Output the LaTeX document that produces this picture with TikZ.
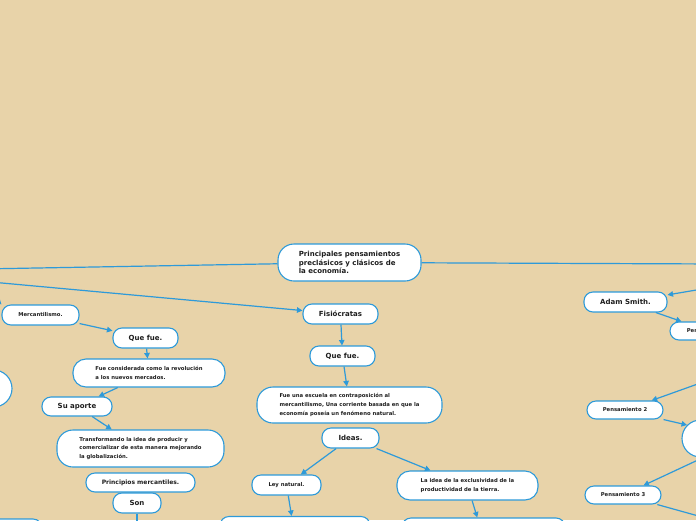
\documentclass[tikz,border=0pt]{standalone}
\usepackage{fontspec}
\setmainfont{DejaVu Sans}
\usetikzlibrary{arrows.meta}
\definecolor{bg}{HTML}{E8D3A9}
\definecolor{bl}{HTML}{2E9AD9}
\definecolor{tx}{HTML}{1E1E1E}
\tikzset{
 box/.style={draw=bl, line width=1.1pt, fill=white, rounded corners=9pt, inner sep=0pt, align=left, text=tx, font=\bfseries\fontsize{5.3}{8.6}\selectfont},
 big/.style={font=\bfseries\fontsize{7}{8.5}\selectfont},
 mid/.style={font=\bfseries\fontsize{6}{8}\selectfont},
 conn/.style={draw=bl, line width=1.2pt},
 arr/.style={conn, -{Triangle[length=5.5pt,width=5.5pt]}},
}
\begin{document}
\begin{tikzpicture}[x=1pt,y=-1pt]
\useasboundingbox (0,0) rectangle (696,520);
\fill[bg] (0,0) rectangle (696,520);
\clip (0,0) rectangle (696,520);

% nodes
\node[box,big,minimum width=143pt,minimum height=37pt,rounded corners=16pt] (central) at (349.5,262.5) {Principales pensamientos\\preclásicos y clásicos de\\la economía.};

\node[box,minimum width=77pt,minimum height=20pt] (merc) at (40.5,315) {Mercantilismo.};
\node[box,big,minimum width=65pt,minimum height=20pt] (quefue1) at (145.5,338) {Que fue.};
\node[box,minimum width=152pt,minimum height=28pt,rounded corners=13pt] (fuecons) at (149,373) {Fue considerada como la revolución\\a los nuevos mercados.};
\node[box,big,minimum width=70pt,minimum height=19pt] (suaporte) at (77,406.5) {Su aporte};
\node[box,minimum width=167pt,minimum height=37pt,rounded corners=16pt] (transf) at (140.5,448.5) {Transformando la idea de producir y\\comercializar de esta manera mejorando\\la globalización.};
\node[box,mid,minimum width=109pt,minimum height=19pt] (princ) at (140.5,482.5) {Principios mercantiles.};
\node[box,big,minimum width=48pt,minimum height=20pt] (son) at (137,503) {Son};
\node[box,minimum width=84pt,minimum height=40pt] (blchild) at (0,539) {};
\node[box,circle,minimum size=37pt] (lcirc) at (-6.5,388.5) {};

\node[box,big,minimum width=75pt,minimum height=20pt] (fisio) at (340.5,314) {Fisiócratas};
\node[box,big,minimum width=65pt,minimum height=20pt] (quefue2) at (342.5,356) {Que fue.};
\node[box,minimum width=185pt,minimum height=36pt,rounded corners=16pt] (escuela) at (349.5,405) {Fue una escuela en contraposición al\\mercantilismo, Una corriente basada en que la\\economía poseía un fenómeno natural.};
\node[box,big,minimum width=57pt,minimum height=20pt] (ideas) at (350.5,438) {Ideas.};
\node[box,minimum width=69pt,minimum height=20pt] (ley) at (286.5,485) {Ley natural.};
\node[box,minimum width=141pt,minimum height=29pt,rounded corners=13pt] (laidea) at (467.5,485.5) {La idea de la exclusividad de la\\productividad de la tierra.};
\node[box,minimum width=150pt,minimum height=40pt] (leychild) at (295,536.5) {};
\node[box,minimum width=163pt,minimum height=40pt] (ideachild) at (483.5,538) {};

\node[box,big,minimum width=83pt,minimum height=20pt] (adam) at (625.5,302) {Adam Smith.};
\node[box,minimum width=78pt,minimum height=18pt] (pen1) at (709,331) {Pensamiento 1};
\node[box,minimum width=76pt,minimum height=18pt] (pens2) at (625,410) {Pensamiento 2};
\node[box,circle,minimum size=37pt] (rcirc) at (700.5,438.5) {};
\node[box,minimum width=76pt,minimum height=18pt] (pens3) at (623,495) {Pensamiento 3};

% free ends
\coordinate (LC) at (-20,269);
\coordinate (LF) at (-20,281);
\coordinate (LM) at (-12,291);
\coordinate (RC) at (720,264);
\coordinate (R1) at (720,286);
\coordinate (R2) at (720,376);
\coordinate (R3) at (720,522);
\coordinate (SB) at (137,540);

% connectors
\draw[conn] (central) -- (LC);
\draw[conn] (central) -- (RC);
\draw[arr] (LF) -- (fisio);
\draw[arr] (LM) -- (merc.north west);
\draw[arr] (merc) -- (quefue1);
\draw[arr] (quefue1) -- (fuecons);
\draw[arr] (fuecons) -- (suaporte);
\draw[arr] (suaporte) -- (transf);
\draw[conn] (son) -- (SB);

\draw[arr] (fisio) -- (quefue2);
\draw[arr] (quefue2) -- (escuela);
\draw[arr] (ideas) -- (ley);
\draw[arr] (ideas) -- (laidea);
\draw[arr] (ley) -- (leychild);
\draw[arr] (laidea) -- (ideachild);

\draw[arr] (R1) -- (adam);
\draw[arr] (adam) -- (pen1);
\draw[arr] (R2) -- (pens2);
\draw[arr] (pens2.south east) -- (rcirc.135);
\draw[arr] (rcirc.-80) -- (pens3);
\draw[conn] (pens3) -- (R3);
\end{tikzpicture}
\end{document}
